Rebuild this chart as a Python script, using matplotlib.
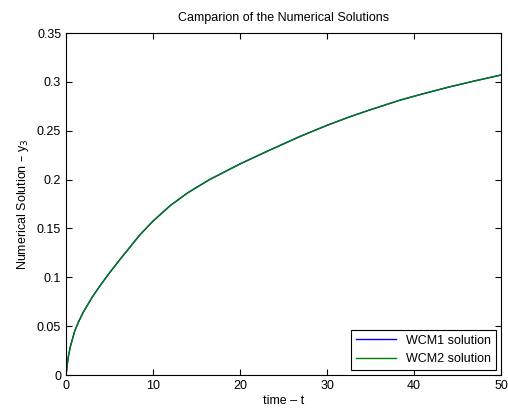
import matplotlib.pyplot as plt
from matplotlib.ticker import FormatStrFormatter

plt.rcParams['font.family'] = ['Liberation Sans', 'DejaVu Sans']

# Numerical solution y3 over time
t = [0, 0.25, 0.5, 1, 1.5, 2, 3, 4, 5, 6, 7, 8.5, 10, 12, 14, 16.5, 20,
     23.5, 27, 30, 32.6, 35, 38.4, 41, 44.1, 47, 50]
y_wcm1 = [0, 0.018, 0.029, 0.045, 0.0555, 0.0645, 0.0795, 0.0925, 0.1045,
          0.116, 0.127, 0.1435, 0.1575, 0.1735, 0.1865, 0.200, 0.216, 0.2305,
          0.2445, 0.2555, 0.2642, 0.2715, 0.2813, 0.2877, 0.2949, 0.301, 0.307]
y_wcm2 = list(y_wcm1)

x_ticks = [0, 10, 20, 30, 40, 50]
y_ticks = [0, 0.05, 0.1, 0.15, 0.2, 0.25, 0.3, 0.35]

fig = plt.figure(figsize=(5.08, 4.12), dpi=100)
ax = fig.add_axes([66 / 508, 37 / 412, 435 / 508, 342 / 412])

ax.plot(t, y_wcm1, color=(0, 0, 1), lw=1.0, label="WCM1 solution")
ax.plot(t, y_wcm2, color=(0, 0.5, 0), lw=1.0, label="WCM2 solution")

ax.set_xlim(0, 50)
ax.set_ylim(0, 0.35)
ax.set_xticks(x_ticks)
ax.set_yticks(y_ticks)
ax.yaxis.set_major_formatter(FormatStrFormatter('%g'))
ax.tick_params(direction='in', top=True, right=True, labelsize=9, length=4, width=0.8)
for s in ax.spines.values():
    s.set_linewidth(0.8)

ax.set_title("Camparion of the Numerical Solutions", fontsize=9, pad=9)
ax.set_xlabel("time \u2013 t", fontsize=9, labelpad=2)
ax.set_ylabel("Numerical Solution \u2013 y$_3$", fontsize=9)

leg = ax.legend(loc='lower right', fontsize=9, fancybox=False, framealpha=1,
                edgecolor='black', borderaxespad=0.4, handlelength=3.2)
leg.get_frame().set_linewidth(0.8)

fig.savefig("out.png", dpi=100)
